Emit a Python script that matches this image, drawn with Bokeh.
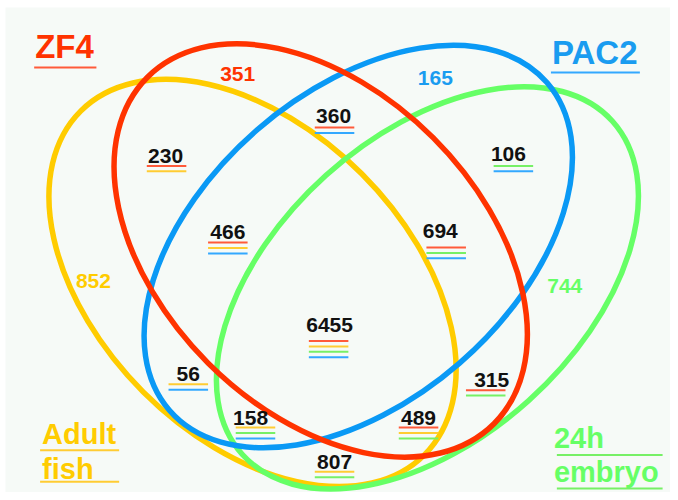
import math
from bokeh.plotting import figure
from bokeh.models import Range1d
from bokeh.core.properties import value
from bokeh.embed import file_html
from bokeh.resources import INLINE

# ---------------- data ----------------
set_keys = ["ZF4", "PAC2", "Adult", "Embryo"]
set_title_lines = [["ZF4"], ["PAC2"], ["Adult", "fish"], ["24h", "embryo"]]

region_counts = [351, 165, 852, 744, 230, 360, 106, 466, 694, 6455, 56, 158, 807, 489, 315]
region_members = [
    ["ZF4"], ["PAC2"], ["Adult"], ["Embryo"],
    ["ZF4", "Adult"], ["ZF4", "PAC2"], ["Embryo", "PAC2"],
    ["ZF4", "Adult", "PAC2"], ["ZF4", "Embryo", "PAC2"],
    ["ZF4", "Adult", "Embryo", "PAC2"],
    ["Adult", "PAC2"], ["Adult", "Embryo", "PAC2"], ["Adult", "Embryo"],
    ["ZF4", "Adult", "Embryo"], ["ZF4", "Embryo"],
]
underline_order = ["ZF4", "Adult", "Embryo", "PAC2"]

# ---------------- styles / layout (reference pixel coords, y down) ----------------
IMG_W, IMG_H = 678, 500
def Y(v):
    return IMG_H - v

line_col = {"ZF4": "#ff3300", "PAC2": "#0a99f5", "Adult": "#ffcc00", "Embryo": "#66ff66"}
text_col = {"ZF4": "#ff3300", "PAC2": "#1a9cf0", "Adult": "#ffcc00", "Embryo": "#66ff66"}
ul_col = {"ZF4": "#ff5a3a", "PAC2": "#33a8ff", "Adult": "#ffcc33", "Embryo": "#77f066"}

# ellipse geometry: center x, center y, semi-major, semi-minor, tilt (deg, +down-right)
ell_geom = {
    "Adult":  (255, 287, 246, 157, 45),
    "Embryo": (432, 292, 252, 154, -42),
    "PAC2":   (362, 250, 253, 157, -41),
    "ZF4":    (324, 254, 248, 162, 45),
}
draw_order = ["Adult", "Embryo", "PAC2", "ZF4"]

# label layout: text center x, baseline y, underline center x, first underline y
label_x =    [240, 440, 94, 571, 167, 337, 514, 230, 445, 333, 190, 253, 338, 423, 497]
label_base = [82, 86, 293, 298, 165, 125, 163, 243, 242, 337, 387, 432, 476, 432, 393]
ul_cx =      [0, 0, 0, 0, 168, 338, 519, 230, 451, 332, 190, 258, 338, 423, 491]
ul_y0 =      [0, 0, 0, 0, 168, 129, 168, 246, 251, 346, 390, 434, 479, 434, 396]
UL_W = 40
UL_GAP = 5.5
NUM_CAP = 15

# title layout: left x, baselines, underline x0, x1, underline ys
title_x = {"ZF4": 35, "PAC2": 558, "Adult": 42, "Embryo": 560}
title_base = {"ZF4": [59], "PAC2": [65], "Adult": [451, 487], "Embryo": [455, 490]}
title_size = {"ZF4": "33px", "PAC2": "33px", "Adult": "29px", "Embryo": "29px"}
title_cap = {"ZF4": 24, "PAC2": 24, "Adult": 21, "Embryo": 21}
title_ul = {"ZF4": (34, 97, [68]), "PAC2": (557, 647, [73]),
            "Adult": (40, 120, [457, 489]), "Embryo": (563, 670, [462, 496])}

BG = "#f6faf7"
FONT = value("Liberation Sans")

W, H = 670, 492
LEFT, TOP = 5, 7
p = figure(width=W, height=H, output_backend="svg", toolbar_location=None,
           x_range=Range1d(LEFT, IMG_W),
           y_range=Range1d(0, IMG_H - TOP),
           min_border_left=LEFT, min_border_top=TOP, min_border_right=0, min_border_bottom=0,
           background_fill_color=BG, border_fill_color="white")
p.axis.visible = False
p.grid.visible = False
p.outline_line_color = None

# ellipses
for k in draw_order:
    cx, cy, a, b, t = ell_geom[k]
    p.ellipse(x=[cx], y=[Y(cy)], width=[2 * a], height=[2 * b],
              angle=[-math.radians(t)], fill_alpha=0,
              line_color=line_col[k], line_width=5.5)

# region numbers
for i, (cnt, mem) in enumerate(zip(region_counts, region_members)):
    col = text_col[mem[0]] if len(mem) == 1 else "#111111"
    p.text(x=[label_x[i]], y=[Y(label_base[i] - NUM_CAP / 2)], text=[str(cnt)],
           text_font=FONT, text_font_style="bold", text_font_size="21px",
           text_align="center", text_baseline="middle", text_color=col)
    if len(mem) > 1:
        j = 0
        for s in underline_order:
            if s in mem:
                yy = Y(ul_y0[i] + j * UL_GAP)
                p.segment(x0=[ul_cx[i] - UL_W / 2], x1=[ul_cx[i] + UL_W / 2],
                          y0=[yy], y1=[yy], line_color=ul_col[s], line_width=2)
                j += 1

# set titles
for k, lines in zip(set_keys, set_title_lines):
    for ln, base in zip(lines, title_base[k]):
        p.text(x=[title_x[k]], y=[Y(base - title_cap[k] / 2)], text=[ln], text_font=FONT,
               text_font_style="bold", text_font_size=title_size[k],
               text_align="left", text_baseline="middle", text_color=text_col[k])
    x0, x1, ys = title_ul[k]
    for yy in ys:
        p.segment(x0=[x0], x1=[x1], y0=[Y(yy)], y1=[Y(yy)],
                  line_color=ul_col[k], line_width=2)

open("out.html", "w").write(file_html(p, INLINE))
